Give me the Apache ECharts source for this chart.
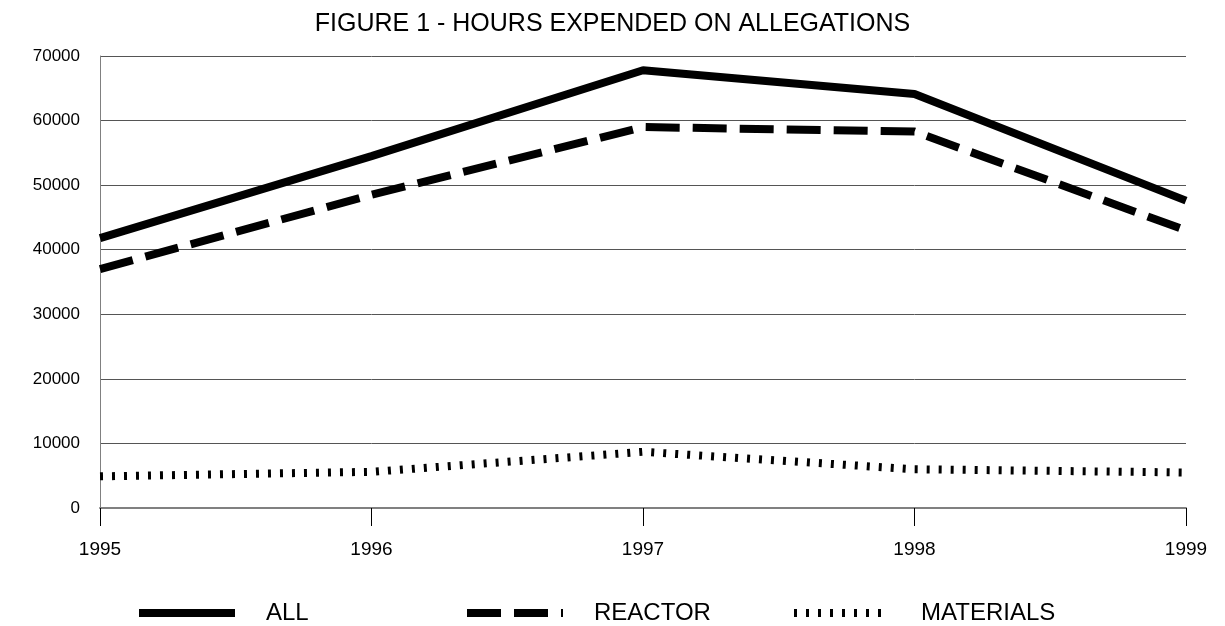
<!DOCTYPE html>
<html>
<head>
<meta charset="utf-8">
<script src="https://cdn.jsdelivr.net/npm/echarts@6/dist/echarts.min.js"></script>
<style>
  html, body { margin: 0; padding: 0; background: #fff; }
  #chart { width: 1225px; height: 626px; }
</style>
</head>
<body>
<div id="chart"></div>
<script>
// hours expended on allegations
var years = ['1995', '1996', '1997', '1998', '1999'];
var allHours = [41800, 54500, 67800, 64100, 47600];
var reactorHours = [37000, 48500, 59000, 58300, 43000];
var materialsHours = [4900, 5600, 8700, 6000, 5500];

var font = 'Arial, "Liberation Sans", sans-serif';

var chart = echarts.init(document.getElementById('chart'));

// one legend per item so each sits where the original put it
function legendAt(name, left) {
  return {
    data: [name],
    left: left,
    top: 601,
    padding: 0,
    itemWidth: 96,
    itemHeight: 8,
    itemStyle: { opacity: 0 },
    lineStyle: { width: 8 },
    textStyle: { fontFamily: font, fontSize: 24, color: '#000', padding: [0, 0, 0, 26] },
    selectedMode: false
  };
}

var option = {
  animation: false,
  title: {
    text: 'FIGURE 1 - HOURS EXPENDED ON ALLEGATIONS',
    left: 'center',
    top: 7,
    textStyle: { fontFamily: font, fontSize: 25, fontWeight: 'normal', color: '#000' }
  },
  legend: [
    legendAt('ALL', 135),
    legendAt('REACTOR', 463),
    legendAt('MATERIALS', 790)
  ],
  grid: { left: 100, right: 39, top: 56, bottom: 118 },
  xAxis: {
    type: 'category',
    data: years,
    boundaryGap: false,
    axisLine: { lineStyle: { color: '#808080', width: 2 } },
    axisTick: { show: true, length: 18, lineStyle: { color: '#000' } },
    axisLabel: { fontFamily: font, fontSize: 19, color: '#000', margin: 32 },
    splitLine: { show: false }
  },
  yAxis: {
    type: 'value',
    min: 0,
    max: 70000,
    interval: 10000,
    axisLine: { show: true, lineStyle: { color: '#808080' } },
    axisTick: { show: false },
    axisLabel: {
      fontFamily: font, fontSize: 17, color: '#000', margin: 20,
      formatter: function (v) { return String(v); }
    },
    splitLine: { lineStyle: { color: '#555' } }
  },
  series: [
    {
      name: 'ALL',
      type: 'line',
      data: allHours,
      symbol: 'none',
      lineStyle: { color: '#000', width: 8 }
    },
    {
      name: 'REACTOR',
      type: 'line',
      data: reactorHours,
      symbol: 'none',
      lineStyle: { color: '#000', width: 8, type: [34, 13] }
    },
    {
      name: 'MATERIALS',
      type: 'line',
      data: materialsHours,
      symbol: 'none',
      lineStyle: { color: '#000', width: 8, type: [3, 9] }
    }
  ]
};

chart.setOption(option);
</script>
</body>
</html>
